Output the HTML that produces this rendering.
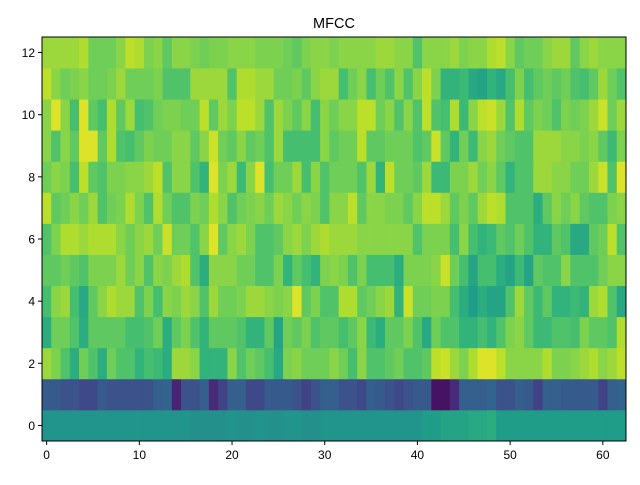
<!DOCTYPE html>
<html><head><meta charset="utf-8"><style>
body{margin:0;background:#fff;font-family:"Liberation Sans",sans-serif;}
</style></head><body>
<svg id="chart" width="640" height="480" xmlns="http://www.w3.org/2000/svg">
<rect width="640" height="480" fill="#fff"/>
<text x="334" y="28" text-anchor="middle" font-size="14.5">MFCC</text>
<g id="cells"></g>
<g id="axes"></g>
</svg>
<script>
const xTicks=[0,10,20,30,40,50,60];
const yTicks=[0,2,4,6,8,10,12];
const row0=[.52,.52,.52,.52,.52,.52,.52,.52,.52,.52,.52,.52,.52,.52,.52,.52,.5,.5,.5,.5,.52,.5,.5,.52,.5,.5,.52,.52,.5,.5,.52,.52,.52,.52,.52,.52,.52,.52,.52,.52,.52,.55,.55,.58,.58,.58,.6,.6,.62,.55,.55,.55,.55,.55,.55,.55,.55,.55,.55,.55,.55,.55,.55];
const row1=[.28,.28,.25,.25,.22,.22,.28,.25,.25,.25,.25,.25,.3,.32,.1,.25,.25,.3,.12,.2,.3,.3,.22,.22,.28,.28,.28,.25,.2,.25,.3,.3,.25,.25,.22,.3,.28,.25,.22,.25,.28,.28,.05,.05,.12,.3,.3,.3,.32,.25,.25,.3,.28,.2,.3,.3,.28,.28,.28,.28,.2,.3,.32];
const row2=[.85,.8,.72,.62,.78,.72,.62,.78,.72,.72,.65,.7,.68,.62,.85,.85,.82,.65,.65,.65,.82,.72,.78,.75,.7,.6,.8,.82,.78,.78,.78,.82,.78,.7,.82,.72,.72,.75,.78,.72,.72,.75,.9,.92,.85,.8,.88,.95,.95,.9,.82,.82,.82,.82,.88,.8,.8,.82,.85,.88,.82,.85,.9];
const row3=[.62,.78,.78,.72,.62,.75,.75,.75,.75,.7,.7,.72,.78,.62,.75,.8,.72,.65,.75,.75,.75,.72,.65,.65,.75,.58,.78,.75,.8,.72,.75,.75,.7,.75,.82,.68,.62,.75,.75,.8,.72,.6,.78,.72,.72,.65,.65,.7,.65,.72,.8,.82,.75,.68,.68,.72,.72,.7,.8,.75,.75,.72,.88];
const row4=[.7,.82,.85,.7,.6,.75,.82,.88,.85,.85,.72,.8,.7,.82,.8,.85,.82,.72,.85,.78,.78,.8,.85,.85,.82,.8,.82,.95,.75,.8,.72,.72,.88,.88,.75,.78,.82,.85,.65,.92,.78,.78,.8,.8,.7,.62,.55,.62,.58,.58,.72,.85,.75,.68,.75,.65,.65,.68,.65,.85,.88,.72,.6];
const row5=[.75,.75,.78,.75,.72,.8,.8,.8,.85,.78,.82,.72,.82,.8,.85,.88,.72,.62,.82,.82,.82,.78,.78,.72,.72,.8,.65,.75,.7,.65,.8,.82,.8,.72,.8,.7,.7,.7,.62,.8,.8,.8,.82,.92,.78,.7,.58,.7,.7,.62,.58,.68,.58,.75,.72,.72,.82,.72,.72,.72,.78,.82,.82];
const row6=[.72,.8,.88,.88,.85,.88,.88,.88,.82,.78,.82,.85,.78,.92,.78,.78,.72,.82,.95,.75,.82,.85,.8,.72,.72,.75,.82,.85,.8,.85,.88,.85,.85,.85,.82,.82,.82,.82,.82,.82,.72,.8,.8,.8,.7,.82,.7,.65,.68,.75,.72,.78,.72,.65,.65,.75,.72,.6,.6,.75,.78,.9,.72];
const row7=[.9,.75,.78,.82,.78,.85,.72,.78,.8,.88,.8,.72,.88,.78,.72,.72,.8,.78,.88,.82,.72,.78,.8,.82,.78,.85,.82,.78,.82,.8,.72,.82,.82,.9,.75,.82,.82,.8,.8,.75,.82,.9,.9,.85,.75,.8,.75,.85,.9,.88,.72,.72,.72,.62,.75,.82,.78,.82,.75,.72,.72,.8,.82];
const row8=[.78,.82,.8,.7,.9,.75,.72,.8,.8,.82,.82,.85,.9,.72,.82,.82,.72,.65,.95,.8,.85,.68,.82,.95,.7,.78,.78,.85,.7,.82,.72,.78,.78,.78,.72,.85,.65,.9,.78,.78,.75,.85,.68,.68,.8,.8,.85,.78,.82,.75,.65,.72,.72,.85,.85,.82,.82,.78,.78,.85,.92,.72,.95];
const row9=[.82,.72,.82,.75,.95,.95,.75,.88,.72,.7,.75,.8,.78,.78,.82,.82,.75,.82,.92,.78,.75,.82,.75,.78,.72,.85,.7,.7,.7,.7,.82,.75,.78,.78,.9,.75,.75,.78,.78,.78,.72,.75,.92,.75,.65,.78,.68,.82,.85,.78,.75,.72,.72,.85,.85,.85,.82,.82,.8,.82,.75,.68,.8];
const row10=[.82,.95,.82,.7,.95,.75,.7,.88,.75,.85,.7,.72,.78,.8,.8,.78,.78,.9,.75,.85,.8,.9,.9,.85,.72,.85,.8,.75,.82,.7,.82,.78,.82,.82,.9,.9,.78,.82,.72,.82,.72,.9,.72,.7,.88,.68,.82,.9,.92,.85,.72,.88,.75,.8,.78,.72,.8,.78,.8,.85,.92,.78,.85];
const row11=[.9,.82,.78,.8,.82,.78,.78,.8,.85,.78,.78,.78,.8,.72,.72,.72,.85,.85,.85,.85,.72,.88,.88,.85,.85,.78,.78,.8,.75,.82,.85,.85,.7,.78,.82,.7,.78,.72,.82,.72,.82,.9,.8,.65,.65,.68,.6,.58,.65,.6,.7,.8,.7,.75,.78,.75,.78,.72,.7,.75,.85,.78,.72];
const row12=[.85,.85,.85,.85,.88,.78,.78,.78,.82,.9,.88,.8,.82,.75,.82,.82,.8,.78,.8,.8,.82,.82,.82,.8,.8,.8,.78,.75,.8,.82,.82,.8,.82,.82,.82,.82,.85,.85,.82,.82,.72,.82,.82,.82,.85,.8,.82,.82,.88,.9,.82,.75,.78,.78,.82,.85,.85,.75,.82,.85,.82,.82,.82];
const rows=[row0,row1,row2,row3,row4,row5,row6,row7,row8,row9,row10,row11,row12];
const ncols=63,nrows=13;
const L=42,T=37,W=584,H=404;
const xs=v=>L+(v+0.5)/ncols*W;
const ys=v=>T+H-(v+0.5)/nrows*H;
const vir=[[68,1,84],[72,40,120],[62,74,137],[49,104,142],[38,130,142],[31,158,137],[53,183,121],[110,206,88],[181,222,43],[253,231,37]];
function cmap(v){v=Math.max(0,Math.min(1,v))*(vir.length-1);const i=Math.min(vir.length-2,Math.floor(v)),f=v-i;const a=vir[i],b=vir[i+1];return `rgb(${a.map((c,k)=>Math.round(c+(b[k]-c)*f)).join(',')})`;}
const NS="http://www.w3.org/2000/svg";
const cells=document.getElementById('cells');
rows.forEach((r,ri)=>r.forEach((v,ci)=>{
 const x0=xs(ci-0.5),x1=xs(ci+0.5),y0=ys(ri+0.5),y1=ys(ri-0.5);
 const el=document.createElementNS(NS,'rect');
 el.setAttribute('x',x0);el.setAttribute('y',y0);el.setAttribute('width',x1-x0+0.4);el.setAttribute('height',y1-y0+0.4);
 el.setAttribute('fill',cmap(v));
 
 
 cells.appendChild(el);
}));
const ax=document.getElementById('axes');
const frame=document.createElementNS(NS,'rect');
frame.setAttribute('x',L);frame.setAttribute('y',T);frame.setAttribute('width',W);frame.setAttribute('height',H);
frame.setAttribute('fill','none');frame.setAttribute('stroke','#000');frame.setAttribute('stroke-width','1');


ax.appendChild(frame);
xTicks.forEach(t=>{
 const x=xs(t);
 const ln=document.createElementNS(NS,'line');
 ln.setAttribute('x1',x);ln.setAttribute('x2',x);ln.setAttribute('y1',T+H);ln.setAttribute('y2',T+H+4);ln.setAttribute('stroke','#000');
 
 
 ax.appendChild(ln);
 const tx=document.createElementNS(NS,'text');
 tx.setAttribute('x',x);tx.setAttribute('y',T+H+18);tx.setAttribute('text-anchor','middle');tx.setAttribute('font-size','12');
 tx.textContent=t;
 
 
 ax.appendChild(tx);
});
yTicks.forEach(t=>{
 const y=ys(t);
 const ln=document.createElementNS(NS,'line');
 ln.setAttribute('x1',L-4);ln.setAttribute('x2',L);ln.setAttribute('y1',y);ln.setAttribute('y2',y);ln.setAttribute('stroke','#000');
 
 
 ax.appendChild(ln);
 const tx=document.createElementNS(NS,'text');
 tx.setAttribute('x',L-7);tx.setAttribute('y',y+4.5);tx.setAttribute('text-anchor','end');tx.setAttribute('font-size','12');
 tx.textContent=t;
 
 
 ax.appendChild(tx);
});
</script>
</body></html>
